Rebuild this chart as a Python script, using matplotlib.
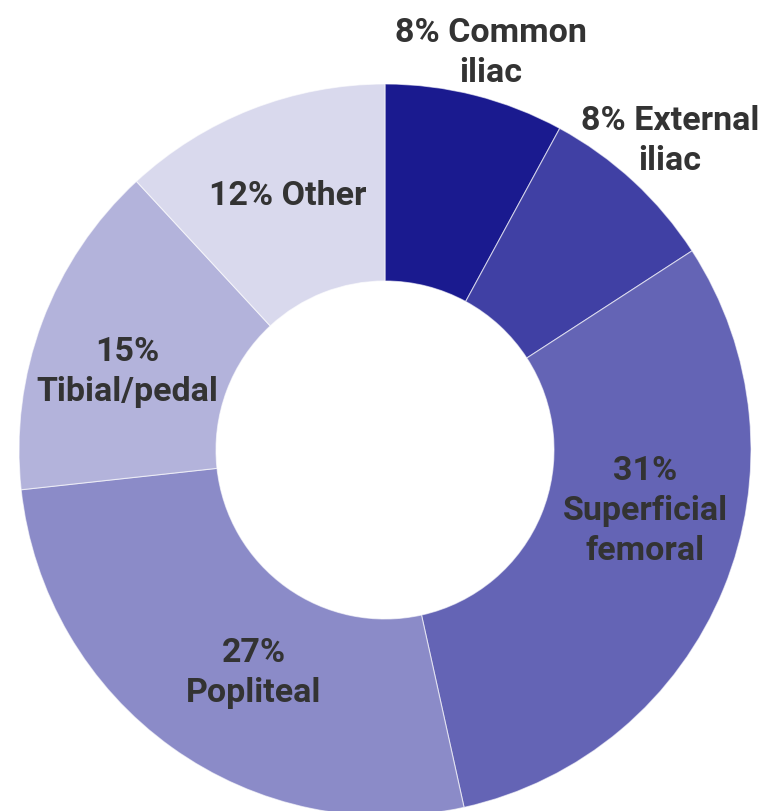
import matplotlib.pyplot as plt

labels = ["8% Common\niliac", "8% External\niliac", "31%\nSuperficial\nfemoral",
          "27%\nPopliteal", "15%\nTibial/pedal", "12% Other"]
values = [8, 8, 31, 27, 15, 12]
colors = ["#1a1a8f", "#4040a4", "#6464b5", "#8b8bc8", "#b3b3db", "#d9d9ed"]
# label positions in pixels from the top-left corner
label_px = [(491, 53), (670, 141), (645, 511), (254, 673), (127, 372), (288, 196)]

W, H = 783, 812
fig = plt.figure(figsize=(W / 100, H / 100), dpi=100)
ax = fig.add_axes([0, 0, 1, 1])
ax.axis("off")

cx, cy, R, r = 385, H - 451, 366, 169
ax.pie(values, colors=colors, startangle=90, counterclock=False,
       center=(cx, cy), radius=R,
       wedgeprops=dict(width=R - r, edgecolor=(1, 1, 1, 0.6), linewidth=0.8))
ax.set_xlim(0, W)
ax.set_ylim(0, H)
ax.set_aspect("auto")

for lab, (x, y) in zip(labels, label_px):
    ax.text(x, H - y, lab, ha="center", va="center", fontsize=24.5,
            fontweight="bold", family="Roboto", color="#333333", linespacing=1.32)

plt.savefig("out.png", dpi=100)
